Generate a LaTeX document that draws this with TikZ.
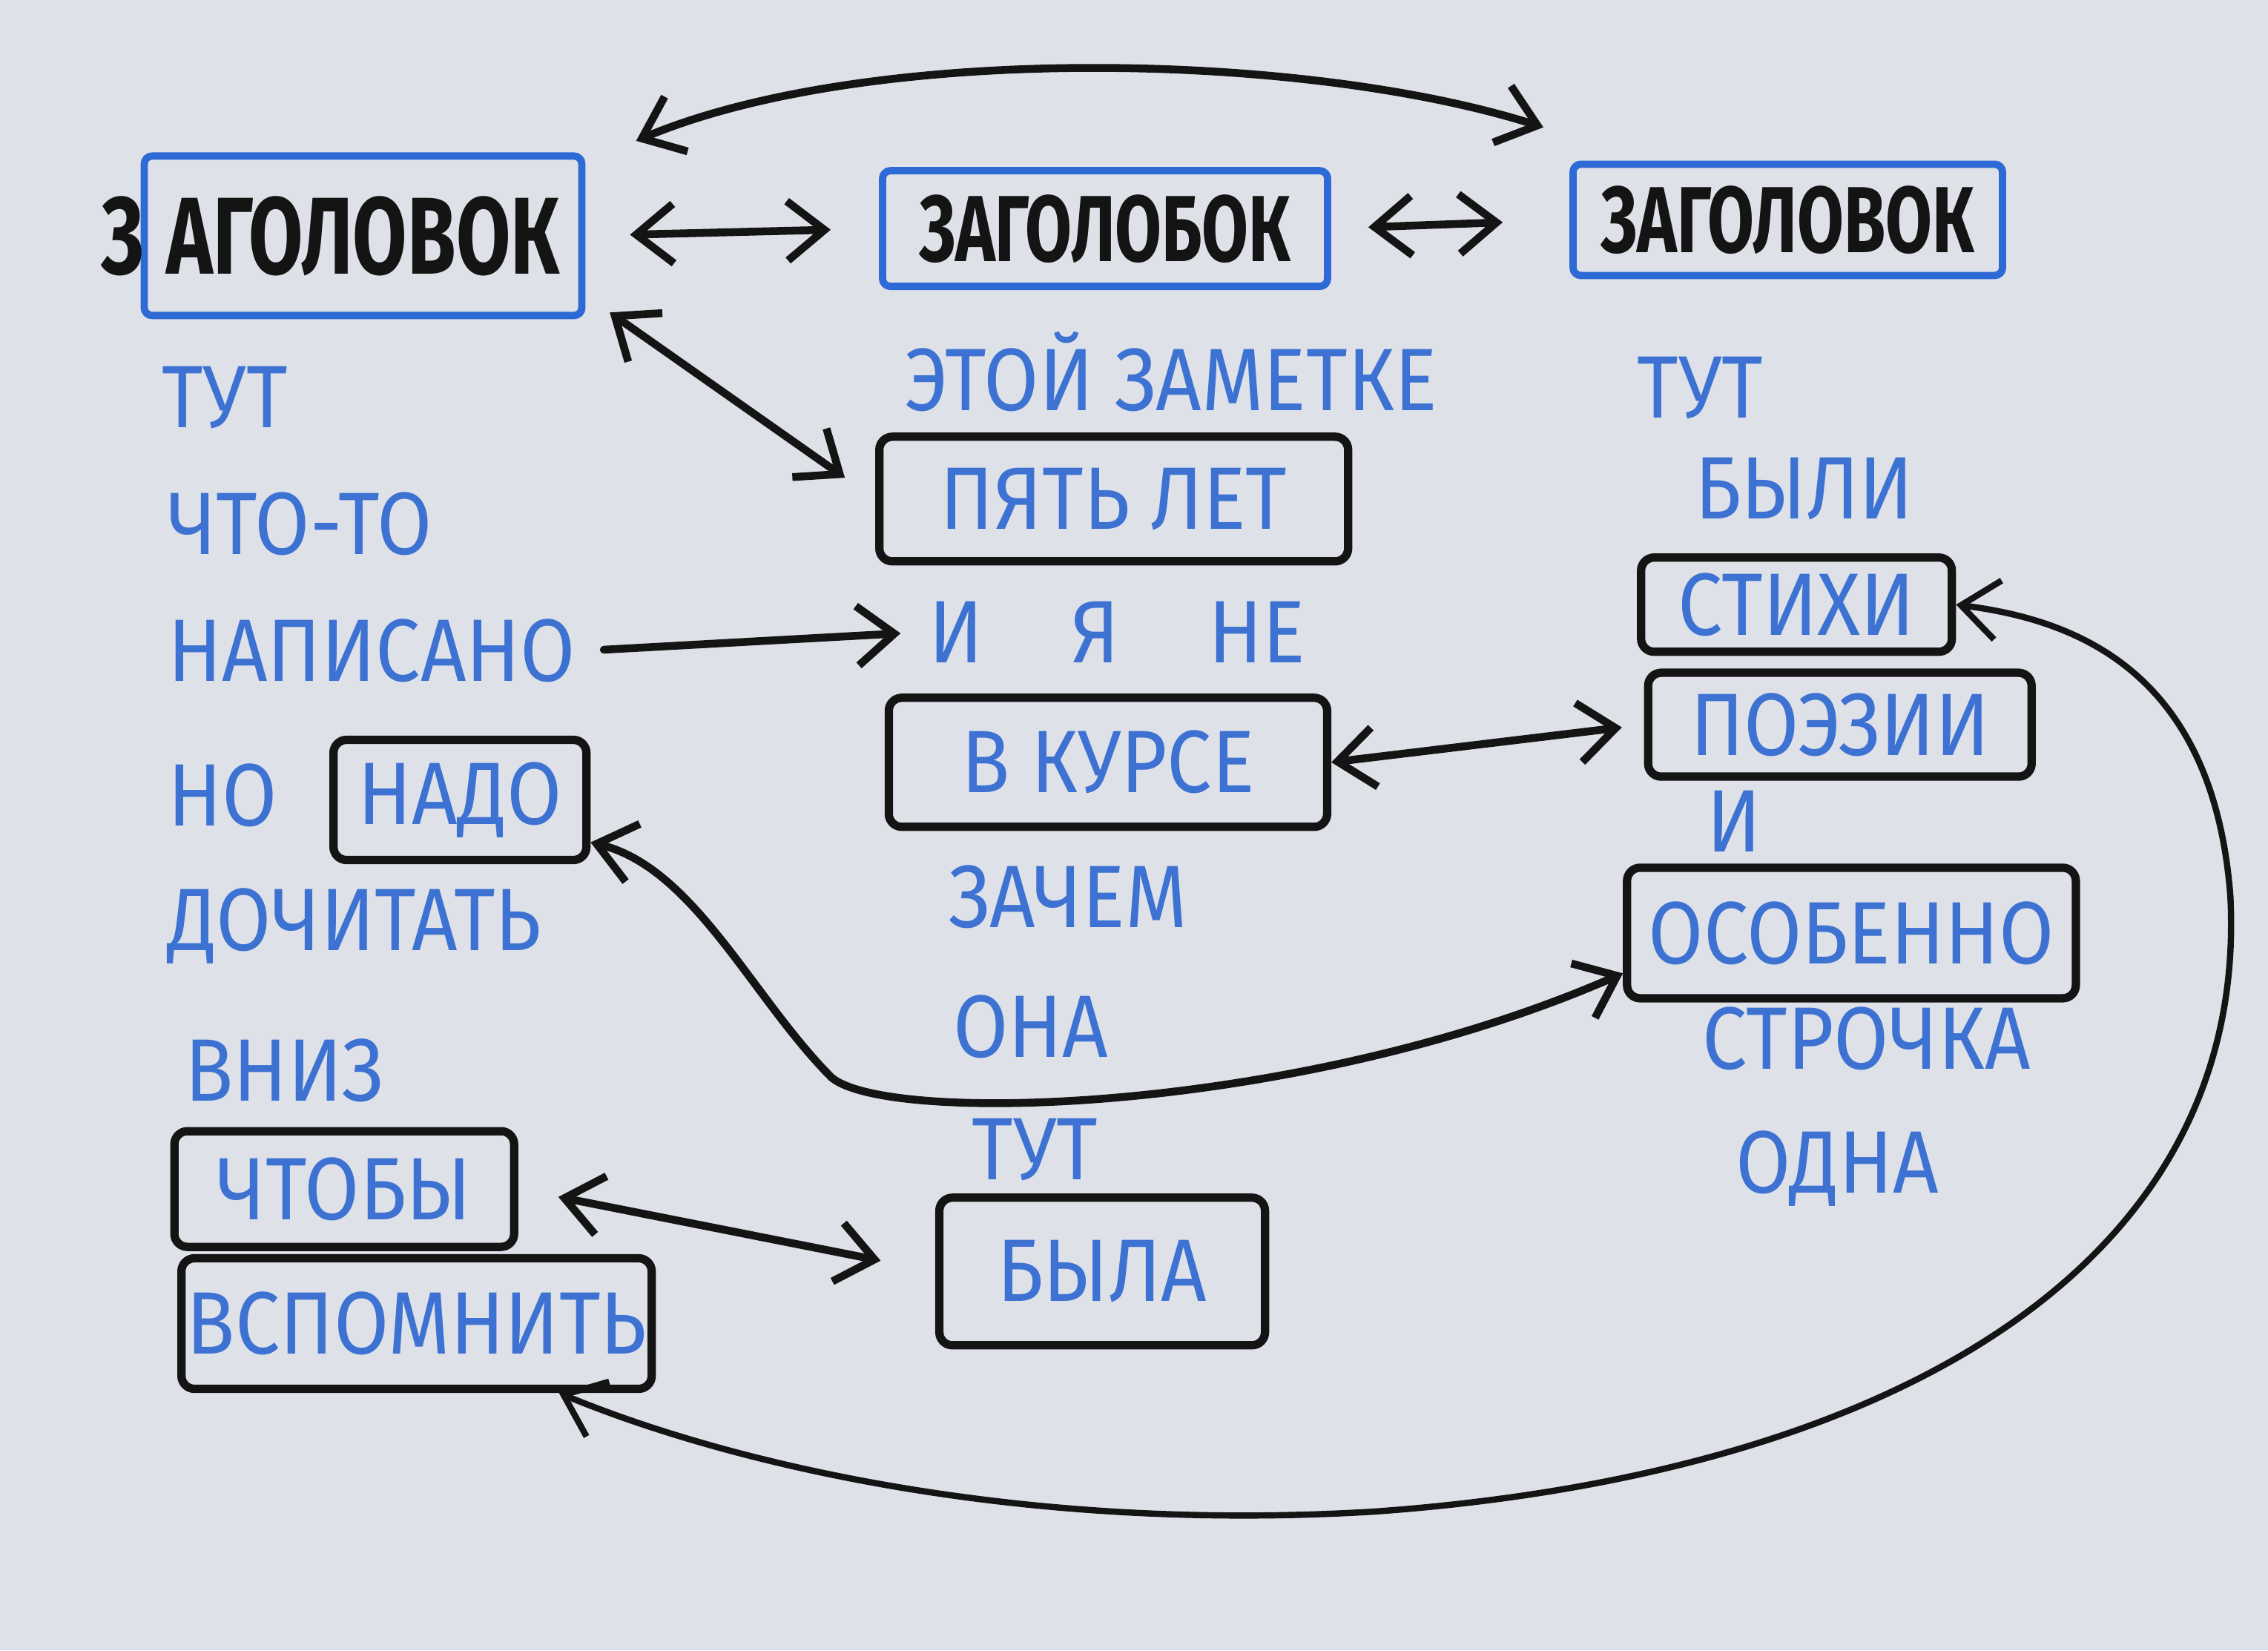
\documentclass[tikz,border=0pt]{standalone}
\usepackage{fontspec}
\newfontfamily\handfont[FakeStretch=0.9]{Fira Sans}
\newfontfamily\headfont[FakeStretch=0.72]{Fira Sans}
\usetikzlibrary{calc,arrows.meta}
\definecolor{bumaga}{HTML}{DEE2E8}
\definecolor{sinij}{HTML}{3D72D2}
\definecolor{ramka}{HTML}{2E6AD6}
\definecolor{grafit}{HTML}{141414}
\tikzset{
  slovo/.style={text=sinij,font=\handfont\fontsize{34}{40}\selectfont,inner sep=2pt},
  ramochka/.style 2 args={slovo,draw=grafit,line width=3.2pt,rounded corners=5pt,
    minimum width=#1,minimum height=#2},
  zagolovok/.style 2 args={draw=ramka,line width=2.8pt,rounded corners=3pt,text=grafit,
    font=\headfont\bfseries\fontsize{36}{40}\selectfont,minimum width=#1,minimum height=#2},
  strelka/.style={draw=grafit,line width=3pt,line join=round}
}

\begin{document}
\begin{tikzpicture}[x=0.0195cm,y=-0.0195cm,>={Straight Barb[length=5mm,width=8mm]},line cap=round]
  \fill[bumaga] (0,0) rectangle (1568,1141);
  \useasboundingbox (0,0) rectangle (1568,1141);
  % --- zagolovki ---
  \node[zagolovok={5.9cm}{2.15cm},font=\headfont\bfseries\fontsize{42}{46}\selectfont] (zag1) at (251,163) {\llap{З\hspace{0.3cm}}АГОЛОВОК};
  \node[zagolovok={6.0cm}{1.56cm}] (zag2) at (764,158) {ЗАГОЛОБОК};
  \node[zagolovok={5.79cm}{1.5cm}] (zag3) at (1236,152) {ЗАГОЛОВОК};
  % --- levyj stolbec ---
  \node[slovo,anchor=west] (tut1) at (108,275) {ТУТ};
  \node[slovo,anchor=west] (chtoto) at (112,362) {ЧТО-ТО};
  \node[slovo,anchor=west] (napisano) at (112,450) {НАПИСАНО};
  \node[slovo,anchor=west] (no) at (112,550) {НО};
  \node[ramochka={3.41cm}{1.62cm}] (nado) at (318,553) {НАДО};
  \node[slovo,anchor=west] (dochitat) at (112,640) {ДОЧИТАТЬ};
  \node[slovo,anchor=west] (vniz) at (124,740) {ВНИЗ};
  \node[ramochka={4.58cm}{1.56cm}] (chtoby) at (238,822) {ЧТОБЫ};
  \node[ramochka={6.34cm}{1.76cm}] (vspomnit) at (288,915) {ВСПОМНИТЬ};
  % --- srednij stolbec ---
  \node[slovo,anchor=west] (zametke) at (622,257) {ЭТОЙ ЗАМЕТКЕ};
  \node[ramochka={6.32cm}{1.68cm}] (pyat) at (770,345) {ПЯТЬ ЛЕТ};
  \node[slovo,anchor=west] (iyane) at (638,437) {И\quad Я\quad НЕ};
  \node[ramochka={5.91cm}{1.74cm}] (kurse) at (766,527) {В КУРСЕ};
  \node[slovo,anchor=west] (zachem) at (652,620) {ЗАЧЕМ};
  \node[slovo,anchor=west] (ona) at (655,710) {ОНА};
  \node[slovo,anchor=west] (tut2) at (668,795) {ТУТ};
  \node[ramochka={4.39cm}{1.99cm}] (byla) at (762,879) {БЫЛА};
  % --- pravyj stolbec ---
  \node[slovo,anchor=west] (tut3) at (1128,268) {ТУТ};
  \node[slovo,anchor=west] (byli) at (1168,338) {БЫЛИ};
  \node[ramochka={4.19cm}{1.27cm}] (stihi) at (1242,418) {СТИХИ};
  \node[ramochka={5.17cm}{1.4cm}] (poezii) at (1272,501) {ПОЭЗИИ};
  \node[slovo,anchor=west] (i3) at (1176,568) {И};
  \node[ramochka={6.05cm}{1.76cm}] (osobenno) at (1280,645) {ОСОБЕННО};
  \node[slovo,anchor=west] (strochka) at (1173,718) {СТРОЧКА};
  \node[slovo,anchor=west] (odna) at (1196,808) {ОДНА};
  % --- strelki ---
  \draw[strelka,<->] ($(zag1.north east)+(35,-8)$) .. controls (600,30) and (900,35) .. ($(zag3.north west)+(-18,-23)$);
  \draw[strelka,<->,shorten <=0.6cm,shorten >=0.65cm] (zag1.east) -- (zag2.west);
  \draw[strelka,<->,shorten <=0.5cm,shorten >=0.9cm] (zag2.east) -- (zag3.west);
  \draw[strelka,<->,shorten <=0.4cm,shorten >=0.5cm] (zag1.-15) -- (pyat.west);
  \draw[strelka,->,shorten <=0.3cm,shorten >=0.3cm] (napisano.east) -- (iyane.west);
  \draw[strelka,<->,shorten >=0.3cm] (kurse.east) -- (poezii.west);
  \draw[strelka,<->] (nado.-18) .. controls (480,600) and (520,690) .. (575,745)
    .. controls (615,778) and (900,770) .. (osobenno.-170);
  \draw[strelka,<->,shorten <=0.55cm,shorten >=0.75cm] (chtoby.east) -- (byla.west);
  \draw[strelka,<->,line width=2.4pt] (stihi.east) .. controls (1430,428) and (1530,460) .. (1542,620)
    .. controls (1555,880) and (1300,1020) .. (950,1045)
    .. controls (700,1060) and (500,1010) .. (vspomnit.-26);
\end{tikzpicture}
\end{document}
